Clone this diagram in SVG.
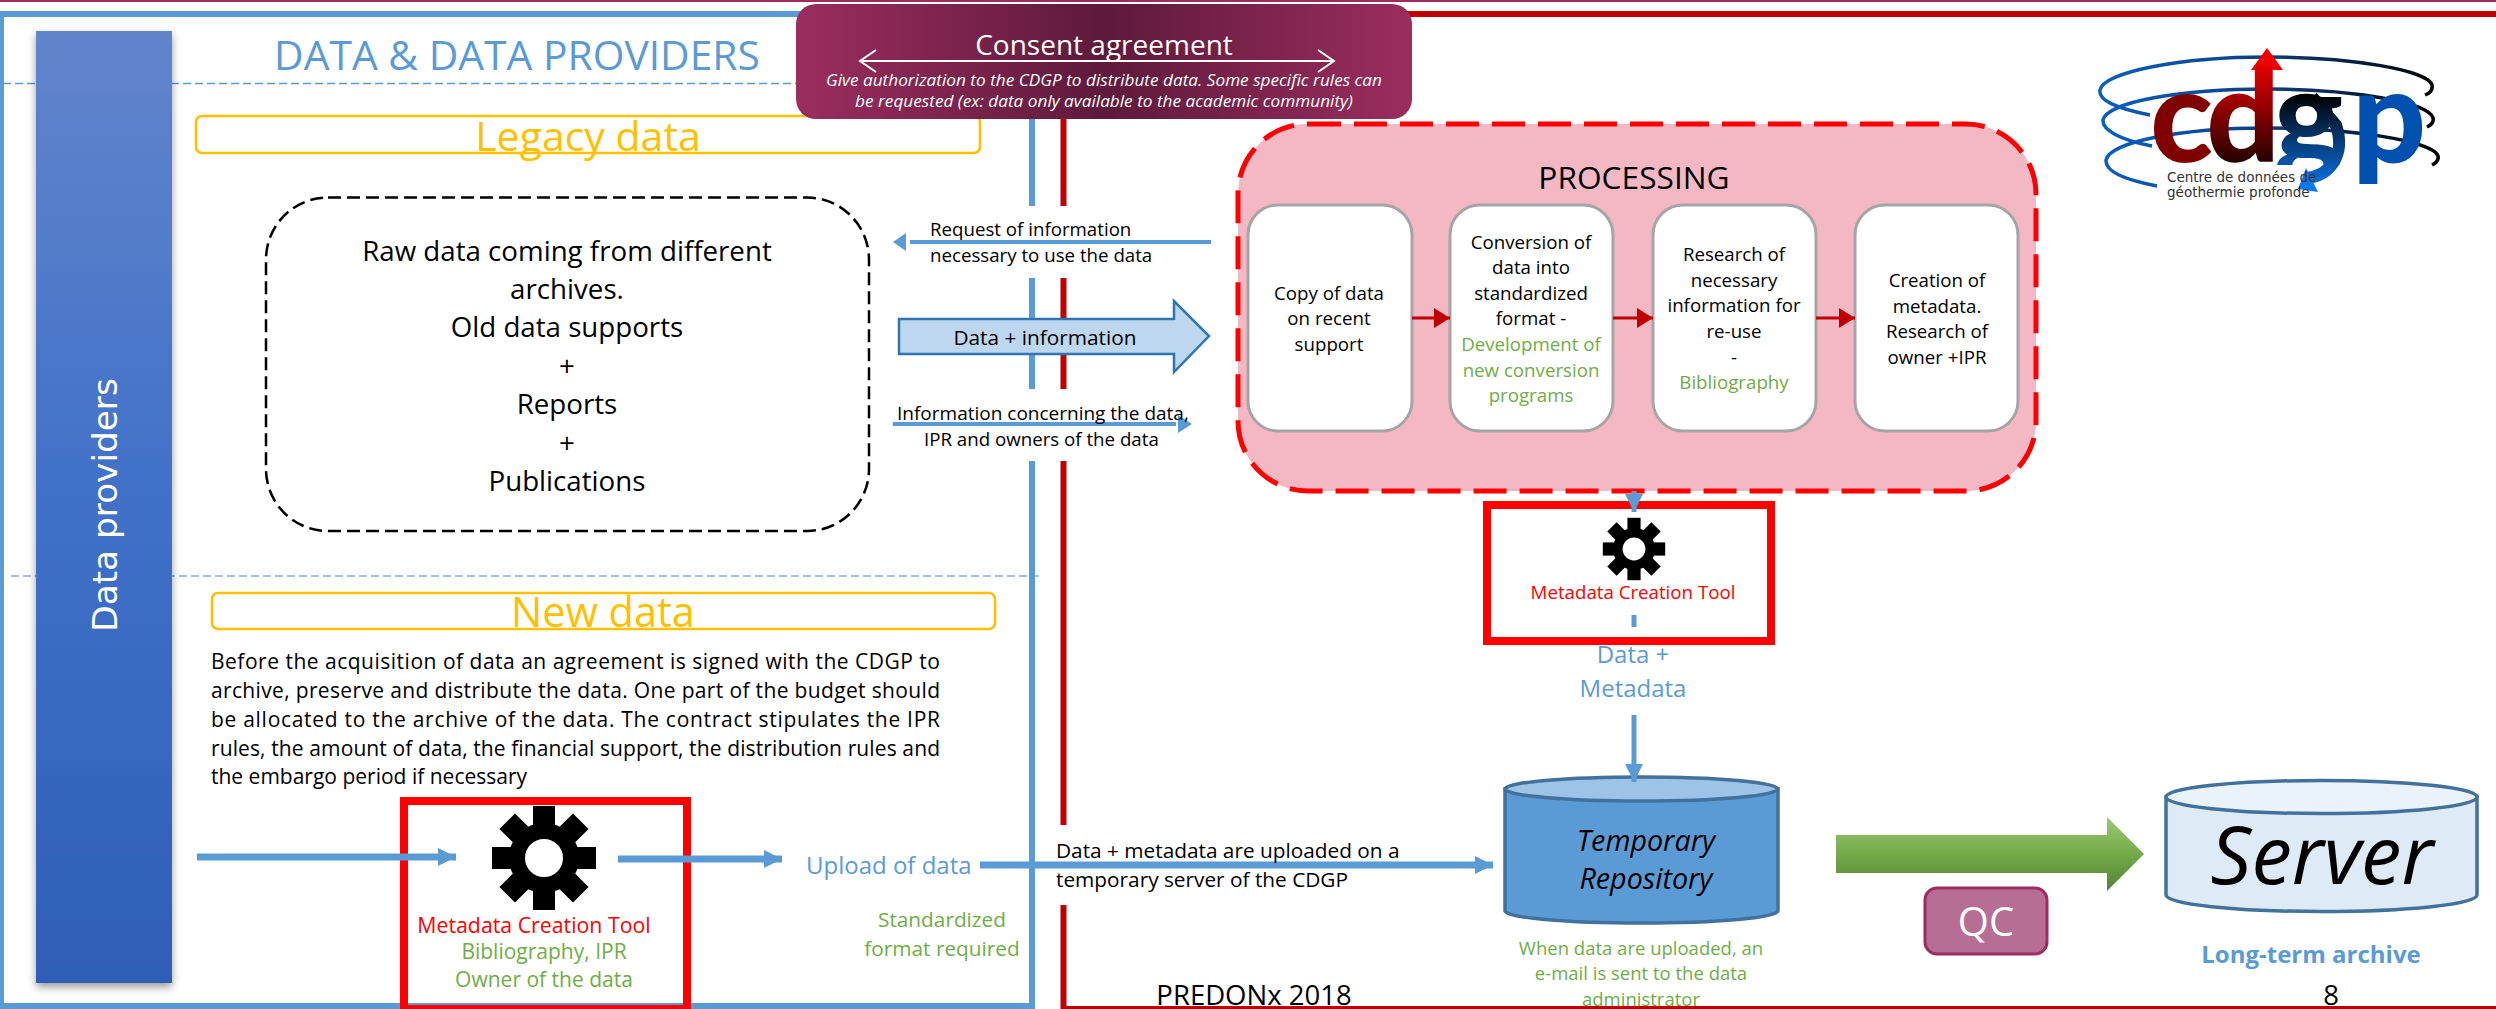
<svg xmlns="http://www.w3.org/2000/svg" xmlns:xlink="http://www.w3.org/1999/xlink" width="2496" height="1009" viewBox="0 0 2496 1009">
<style>
text{font-family:"Open Sans","Liberation Sans",sans-serif}
.c{text-anchor:middle}
.k{fill:#000}
.g{fill:#70ad47}
.b{fill:#5b9bd5}
.w{fill:#fff}
.gold{fill:#ffc000}
.f19{font-size:18.7px}
.f20{font-size:19px}
.p{font-size:21px}
.cl{fill:none;stroke:#5b9bd5;stroke-width:7}
.rd{fill:none;stroke:#c00000;stroke-width:3}
.goldbox{fill:none;stroke:#ffc000;stroke-width:2.5}
.sub{fill:#fff;stroke:#a5a5a5;stroke-width:3}
.tool{fill:none;stroke:#f00;stroke-width:8}
.cyl{stroke:#41719c;stroke-width:3.5}
.lg{font-family:Lato,sans-serif;font-weight:900;font-size:130px}
.ls{font-family:"DejaVu Sans",sans-serif;font-size:13.5px;fill:#333}
</style>
<defs>
<linearGradient id="barG" x1="0" y1="0" x2="0" y2="1"><stop offset="0" stop-color="#6285cc"/><stop offset=".5" stop-color="#4070c8"/><stop offset="1" stop-color="#2f5fb6"/></linearGradient>
<linearGradient id="conG" x1="0" y1="0" x2="1" y2="0"><stop offset="0" stop-color="#9b2d5f"/><stop offset=".5" stop-color="#5e1a3a"/><stop offset="1" stop-color="#9b2d5f"/></linearGradient>
<linearGradient id="grn" x1="0" y1="0" x2="0" y2="1"><stop offset="0" stop-color="#9cc976"/><stop offset=".5" stop-color="#74aa48"/><stop offset="1" stop-color="#548235"/></linearGradient>
<linearGradient id="orb" gradientUnits="userSpaceOnUse" x1="2100" y1="0" x2="2436" y2="0"><stop offset="0" stop-color="#0a5fc0"/><stop offset=".5" stop-color="#0a3f80"/><stop offset="1" stop-color="#000"/></linearGradient>
<linearGradient id="ld" gradientUnits="userSpaceOnUse" x1="0" y1="60" x2="0" y2="165"><stop offset="0" stop-color="#f00000"/><stop offset="1" stop-color="#200000"/></linearGradient>
<linearGradient id="lg" gradientUnits="userSpaceOnUse" x1="0" y1="95" x2="0" y2="190"><stop offset="0" stop-color="#000"/><stop offset="1" stop-color="#0a78f0"/></linearGradient>
<clipPath id="lclip"><rect x="2140" y="40" width="204" height="125"/><rect x="2344" y="40" width="100" height="160"/></clipPath>
<filter id="sh" x="-20%" y="-5%" width="140%" height="110%"><feDropShadow dx="0" dy="4" stdDeviation="4" flood-color="#000" flood-opacity=".4"/></filter>
<path id="tooth" d="M-11-52H11V-30H-11Z"/>
<g id="gear" fill="#000"><circle r="27" fill="none" stroke="#000" stroke-width="16"/><use xlink:href="#tooth"/><use xlink:href="#tooth" transform="rotate(45)"/><use xlink:href="#tooth" transform="rotate(90)"/><use xlink:href="#tooth" transform="rotate(135)"/><use xlink:href="#tooth" transform="rotate(180)"/><use xlink:href="#tooth" transform="rotate(225)"/><use xlink:href="#tooth" transform="rotate(270)"/><use xlink:href="#tooth" transform="rotate(315)"/></g>
<marker id="aB" markerUnits="userSpaceOnUse" markerWidth="18" markerHeight="18" refX="18" refY="9" orient="auto"><path d="M0 0L18 9L0 18Z" fill="#5b9bd5"/></marker>
<marker id="aR" markerUnits="userSpaceOnUse" markerWidth="16" markerHeight="20" refX="16" refY="10" orient="auto"><path d="M0 0L16 10L0 20Z" fill="#c00000"/></marker>
<marker id="aW" markerUnits="userSpaceOnUse" markerWidth="20" markerHeight="24" refX="18" refY="12" orient="auto"><path d="M2 1L18 12L2 23" fill="none" stroke="#fff" stroke-width="2"/></marker>
<marker id="aWs" markerUnits="userSpaceOnUse" markerWidth="20" markerHeight="24" refX="2" refY="12" orient="auto"><path d="M18 1L2 12L18 23" fill="none" stroke="#fff" stroke-width="2"/></marker>
</defs>
<rect width="2496" height="1009" fill="#fff"/>
<rect width="2496" height="2" fill="#9b2d5f"/>

<g id="frames">
<path d="M1032 14H1V1006H1032Z" fill="none" stroke="#5b9bd5" stroke-width="6"/>
<path d="M1063.500 1009V14H2496" fill="none" stroke="#c00000" stroke-width="6"/>
<path d="M1063 1007.500H2496" fill="none" stroke="#c00000" stroke-width="3"/>
<path d="M3 83.500H800" fill="none" stroke="#5b9bd5" stroke-width="1.500" stroke-dasharray="8 4"/>
<path d="M11 576H1042" fill="none" stroke="#5b9bd5" stroke-width="1.500" stroke-dasharray="8 4" opacity=".8"/>
<rect x="1020" y="206" width="50" height="72" fill="#fff"/>
<rect x="1020" y="389" width="50" height="72" fill="#fff"/>
<rect x="1056" y="825" width="14" height="80" fill="#fff"/>
</g>

<g id="data-providers-bar">
<rect x="36" y="31" width="136" height="952" fill="url(#barG)" filter="url(#sh)"/>
<text class="c w" transform="translate(117 505) rotate(-90)" style="font-family:'DejaVu Sans',sans-serif;font-size:34.3px">Data providers</text>
</g>

<text id="title" x="517" y="70" class="c b" style="font-size:40.8px">DATA &amp; DATA PROVIDERS</text>

<g id="legacy-title">
<rect class="goldbox" x="196" y="116" width="784" height="37" rx="6"/>
<text x="588" y="151" class="c gold" style="font-size:41px">Legacy data</text>
</g>

<g id="consent">
<rect x="796" y="4" width="616" height="115" rx="20" fill="url(#conG)"/>
<text x="1104" y="55" class="c w" style="font-size:28px">Consent agreement</text>
<path d="M860 61H1334" stroke="#fff" stroke-width="2" fill="none" marker-start="url(#aWs)" marker-end="url(#aW)"/>
<text x="1104" y="86" class="c w" style="font-size:17.2px;font-style:italic">Give authorization to the CDGP to distribute data. Some specific rules can</text>
<text x="1104" y="107" class="c w" style="font-size:17.2px;font-style:italic">be requested (ex: data only available to the academic community)</text>
</g>

<g id="raw-data">
<rect x="266" y="197.500" width="603" height="333.500" rx="62" fill="none" stroke="#000" stroke-width="2.500" stroke-dasharray="13 6"/>
<g class="k" style="font-size:27.700px">
<text x="567" y="261" class="c">Raw data coming from different</text>
<text x="567" y="299" class="c">archives.</text>
<text x="567" y="337" class="c">Old data supports</text>
<text x="567" y="376" class="c">+</text>
<text x="567" y="414" class="c">Reports</text>
<text x="567" y="453" class="c">+</text>
<text x="567" y="491" class="c">Publications</text>
</g>
</g>

<g id="processing">
<rect x="1238" y="124" width="798" height="367" rx="70" fill="#f4b8c4" stroke="#f00" stroke-width="5" stroke-dasharray="33 13"/>
<text x="1634" y="189" class="c k" style="font-size:31.7px">PROCESSING</text>
</g>
<g id="step-1"><rect class="sub" x="1248" y="205" width="164" height="226" rx="30"/>
<g class="f19 k"><text x="1329" y="300" class="c">Copy of data</text><text x="1329" y="325" class="c">on recent</text><text x="1329" y="351" class="c">support</text></g></g>
<g id="step-2"><rect class="sub" x="1450" y="205" width="163" height="226" rx="30"/>
<g class="f19"><text x="1531" y="249" class="c k">Conversion of</text><text x="1531" y="274" class="c k">data into</text><text x="1531" y="300" class="c k">standardized</text><text x="1531" y="325" class="c k">format -</text><text x="1531" y="351" class="c g">Development of</text><text x="1531" y="377" class="c g">new conversion</text><text x="1531" y="402" class="c g">programs</text></g></g>
<g id="step-3"><rect class="sub" x="1653" y="205" width="163" height="226" rx="30"/>
<g class="f19"><text x="1734" y="261" class="c k">Research of</text><text x="1734" y="287" class="c k">necessary</text><text x="1734" y="312" class="c k">information for</text><text x="1734" y="338" class="c k">re-use</text><text x="1734" y="364" class="c k">-</text><text x="1734" y="389" class="c g">Bibliography</text></g></g>
<g id="step-4"><rect class="sub" x="1855" y="205" width="163" height="226" rx="30"/>
<g class="f19 k"><text x="1937" y="287" class="c">Creation of</text><text x="1937" y="313" class="c">metadata.</text><text x="1937" y="338" class="c">Research of</text><text x="1937" y="364" class="c">owner +IPR</text></g></g>

<g id="logo">
<g fill="none" stroke="url(#orb)" stroke-width="3.500">
<path d="M2150 115C2115 108 2098 100 2100 90C2104 72 2180 57 2267 57C2350 57 2428 70 2432 85C2433 90 2430 93 2425 95"/>
<path d="M2152 146C2120 140 2102 130 2103 120C2107 102 2180 89 2267 89C2350 89 2429 102 2433 118C2434 122 2431 125 2427 127"/>
<path d="M2157 186C2125 180 2105 172 2106 160C2110 142 2180 128 2267 128C2350 128 2434 141 2438 156C2439 160 2436 163 2432 165"/>
</g>
<rect x="2261" y="70" width="11" height="60" fill="#f00000"/>
<path d="M2267 48L2283 70H2251Z" fill="#f00000"/>
<text y="162" class="lg" clip-path="url(#lclip)"><tspan x="2150" style="fill:#800000">c</tspan><tspan x="2206" style="fill:url(#ld)">d</tspan><tspan x="2274" style="fill:url(#lg)">g</tspan><tspan x="2352" style="fill:#0050b0">p</tspan></text>
<path d="M2312 97L2336 125C2346 155 2330 176 2306 178" fill="none" stroke="url(#lg)" stroke-width="12"/>
<path d="M2306 168L2298 189L2318 192Z" fill="#0a78f0"/>
<text x="2167" y="182" class="ls">Centre de données de</text>
<text x="2167" y="197" class="ls">géothermie profonde</text>
</g>

<g id="new-data-title">
<rect class="goldbox" x="212" y="593" width="783" height="36" rx="6"/>
<text x="603" y="627" class="c gold" style="font-size:41.5px">New data</text>
</g>
<g id="new-data-text" class="p k">
<text x="211" y="669" textLength="729">Before the acquisition of data an agreement is signed with the CDGP to</text>
<text x="211" y="698" textLength="729">archive, preserve and distribute the data. One part of the budget should</text>
<text x="211" y="727" textLength="729">be allocated to the archive of the data. The contract stipulates the IPR</text>
<text x="211" y="756" textLength="729">rules, the amount of data, the financial support, the distribution rules and</text>
<text x="211" y="784">the embargo period if necessary</text>
</g>

<g id="tool-1">
<rect class="tool" x="404" y="801" width="283" height="208"/>
<use xlink:href="#gear" transform="translate(544 858)"/>
<text x="534" y="933" class="c" style="font-size:21.3px;fill:#f00">Metadata Creation Tool</text>
<text x="544" y="959" class="c g" style="font-size:21px">Bibliography, IPR</text>
<text x="544" y="987" class="c g" style="font-size:21px">Owner of the data</text>
</g>

<g id="tool-2">
<rect class="tool" x="1487" y="505" width="284" height="136"/>
<use xlink:href="#gear" transform="translate(1634 549) scale(.6)"/>
<text x="1633" y="599" class="c" style="font-size:18.700px;fill:#f00">Metadata Creation Tool</text>
</g>

<g id="repo">
<path class="cyl" d="M1505 789V911A136.500 12 0 0 0 1778 911V789Z" fill="#5b9bd5"/>
<ellipse class="cyl" cx="1641.500" cy="789" rx="136.500" ry="12" fill="#9dc3e6"/>
<text x="1646" y="851" class="c k" style="font-size:28.7px;font-style:italic">Temporary</text>
<text x="1646" y="889" class="c k" style="font-size:28.7px;font-style:italic">Repository</text>
</g>
<g id="server">
<path class="cyl" d="M2166 797V895A155.500 16.500 0 0 0 2477 895V797Z" fill="#deeaf6"/>
<ellipse class="cyl" cx="2321.500" cy="797" rx="155.500" ry="16.500" fill="#ebf3fa"/>
<text x="2322" y="884" class="c k" style="font-size:81px;font-style:italic">Server</text>
</g>

<g id="qc">
<rect x="1925" y="888" width="122" height="66" rx="12" fill="#b76e94" stroke="#9b2d5f" stroke-width="3"/>
<text x="1986" y="936" class="c w" style="font-size:40px">QC</text>
</g>

<g id="connectors">
<path class="cl" d="M1211 242H910" style="stroke-width:4"/>
<path d="M906 233L893 242L906 251Z" fill="#5b9bd5"/>
<path class="cl" d="M893 424H1176" style="stroke-width:4"/>
<path d="M1178 415L1192 424L1178 433Z" fill="#5b9bd5"/>
<path d="M899 319H1174V301L1209 336L1174 372V354H899Z" fill="#bdd7ee" stroke="#2e75b6" stroke-width="2.500"/>
<path class="rd" d="M1412 318H1450" marker-end="url(#aR)"/>
<path class="rd" d="M1613 318H1653" marker-end="url(#aR)"/>
<path class="rd" d="M1816 318H1855" marker-end="url(#aR)"/>
<path class="cl" d="M1634 491V512" marker-end="url(#aB)" style="stroke-width:5"/>
<path class="cl" d="M1634 615V627" style="stroke-width:5"/>
<path class="cl" d="M1634 715V782" marker-end="url(#aB)" style="stroke-width:5"/>
<path class="cl" d="M197 857H456" marker-end="url(#aB)"/>
<path class="cl" d="M618 859H782" marker-end="url(#aB)"/>
<path class="cl" d="M980 865H1493" marker-end="url(#aB)"/>
<path d="M1836 835H2107V817L2144 854L2107 891V873H1836Z" fill="url(#grn)"/>
</g>

<g id="labels">
<text x="1045" y="345" class="c k" style="font-size:20.800px">Data + information</text>
<g class="f19 k">
<text x="930" y="236">Request of information</text>
<text x="930" y="262">necessary to use the data</text>
<text x="897" y="420" class="f20">Information concerning the data,</text>
<text x="924" y="446">IPR and owners of the data</text>
</g>
<text x="806" y="874" class="b" style="font-size:24px">Upload of data</text>
<text x="942" y="927" class="c g" style="font-size:20.800px">Standardized</text>
<text x="942" y="956" class="c g" style="font-size:20.800px">format required</text>
<text x="1056" y="858" class="k" style="font-size:20.800px">Data + metadata are uploaded on a</text>
<text x="1056" y="887" class="k" style="font-size:20.800px">temporary server of the CDGP</text>
<text x="1633" y="663" class="c b" style="font-size:24px">Data +</text>
<text x="1633" y="697" class="c b" style="font-size:24px">Metadata</text>
<g class="f19 g" style="font-size:18.500px"><text x="1641" y="955" class="c">When data are uploaded, an</text><text x="1641" y="980" class="c">e-mail is sent to the data</text><text x="1641" y="1006" class="c">administrator</text></g>
<text x="2311" y="963" class="c b" style="font-size:24px;font-weight:700">Long-term archive</text>
<text x="1254" y="1005" class="c k" style="font-size:27.500px">PREDONx 2018</text>
<text x="2331" y="1005" class="c k" style="font-size:27.500px">8</text>
</g>
</svg>
